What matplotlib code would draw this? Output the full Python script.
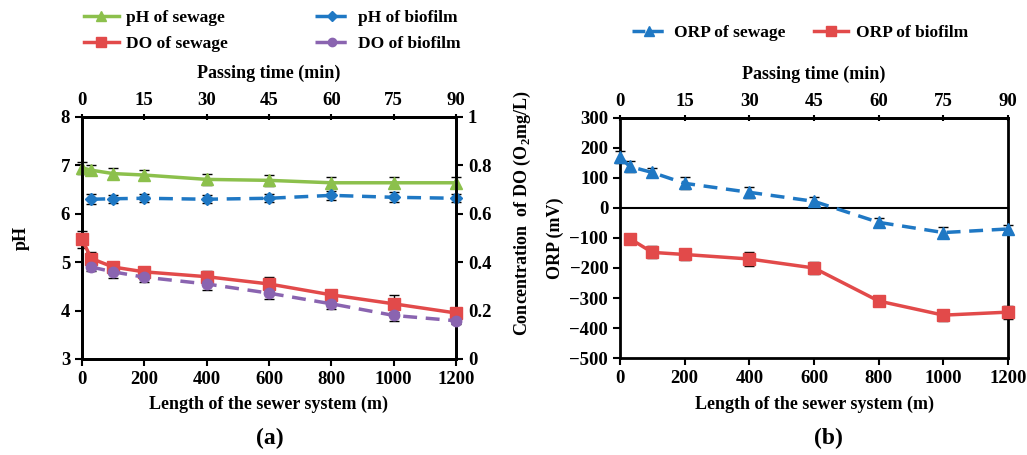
import matplotlib
matplotlib.use("Agg")
import matplotlib.pyplot as plt
from matplotlib.lines import Line2D

plt.rcParams["font.family"] = ["Liberation Serif", "DejaVu Serif"]
plt.rcParams["font.weight"] = "bold"
plt.rcParams["mathtext.fontset"] = "custom"
plt.rcParams["mathtext.rm"] = "Liberation Serif:bold"
plt.rcParams["mathtext.bf"] = "Liberation Serif:bold"
plt.rcParams["axes.linewidth"] = 2.0

# sampling positions along the sewer (m)
length_all = [0, 30, 100, 200, 400, 600, 800, 1000, 1200]
length_bio = [30, 100, 200, 400, 600, 800, 1000, 1200]

ph_sewage = [6.95, 6.9, 6.83, 6.8, 6.71, 6.69, 6.64, 6.64, 6.64]
ph_sewage_err = [0.12, 0.1, 0.11, 0.11, 0.11, 0.11, 0.11, 0.11, 0.11]
ph_biofilm = [6.3, 6.31, 6.32, 6.3, 6.32, 6.38, 6.34, 6.32]
ph_biofilm_err = [0.1, 0.08, 0.08, 0.08, 0.08, 0.09, 0.1, 0.08]

do_sewage = [0.495, 0.415, 0.38, 0.36, 0.34, 0.31, 0.265, 0.228, 0.19]
do_sewage_err = [0.035, 0.025, 0.02, 0.015, 0.025, 0.03, 0.02, 0.035, 0.02]
do_biofilm = [0.38, 0.36, 0.338, 0.31, 0.272, 0.228, 0.18, 0.158]
do_biofilm_err = [0.015, 0.025, 0.02, 0.025, 0.025, 0.02, 0.025, 0.012]

orp_sewage = [170, 138, 118, 82, 52, 22, -48, -82, -70]
orp_sewage_err = [20, 17, 16, 20, 18, 16, 15, 18, 12]
orp_biofilm = [-102, -148, -155, -170, -200, -310, -357, -347]
orp_biofilm_err = [10, 20, 18, 22, 20, 18, 18, 22]

green = "#8CC04C"
blue = "#1F78C4"
red = "#E24A4A"
purple = "#8A64B0"

TICK = 13.5
LAB = 13

fig = plt.figure(figsize=(10.27, 4.55), dpi=100)
ax_a = fig.add_axes([0.0798, 0.211, 0.3642, 0.532])
ax_b = fig.add_axes([0.6037, 0.213, 0.3778, 0.528])


def to_min(x):
    return x * 90.0 / 1200.0


def to_len(t):
    return t * 1200.0 / 90.0


def eb(ax, x, y, err, color, marker, ls, ms):
    ax.errorbar(x, y, yerr=err, color=color, marker=marker, ms=ms, lw=2.5,
                ls=ls, dashes=(4, 2.5) if ls == "--" else (None, None),
                ecolor="black", elinewidth=1.0, capsize=3.5, capthick=1.0,
                clip_on=False, zorder=3)


def style_axis(ax):
    ax.set_xlim(0, 1200)
    ax.set_xticks([0, 200, 400, 600, 800, 1000, 1200])
    ax.tick_params(axis="both", labelsize=TICK, width=1.5, length=5,
                   direction="out")
    for lab in ax.get_xticklabels() + ax.get_yticklabels():
        lab.set_fontweight("bold")
    ax.set_xlabel("Length of the sewer system (m)", fontsize=LAB,
                  fontweight="bold", labelpad=6)
    top = ax.secondary_xaxis("top", functions=(to_min, to_len))
    top.set_xticks([0, 15, 30, 45, 60, 75, 90])
    top.tick_params(labelsize=TICK, width=1.5, length=5, direction="inout")
    for lab in top.get_xticklabels():
        lab.set_fontweight("bold")
    top.set_xlabel("Passing time (min)", fontsize=LAB, fontweight="bold",
                   labelpad=10)


# panel (a): pH on the left axis, DO on the right axis
eb(ax_a, length_all, ph_sewage, ph_sewage_err, green, "^", "-", 8)
eb(ax_a, length_bio, ph_biofilm, ph_biofilm_err, blue, "D", "--", 6)
ax_a.set_ylim(3, 8)
ax_a.set_yticks([3, 4, 5, 6, 7, 8])
ax_a.set_ylabel("pH", fontsize=LAB, fontweight="bold", labelpad=22)
style_axis(ax_a)

ax_do = ax_a.twinx()
eb(ax_do, length_all, do_sewage, do_sewage_err, red, "s", "-", 8.5)
eb(ax_do, length_bio, do_biofilm, do_biofilm_err, purple, "o", "--", 7.5)
ax_do.set_ylim(0, 1)
ax_do.set_yticks([0, 0.2, 0.4, 0.6, 0.8, 1.0])
ax_do.set_yticklabels(["0", "0.2", "0.4", "0.6", "0.8", "1"])
ax_do.tick_params(axis="y", labelsize=TICK, width=1.5, length=5)
for lab in ax_do.get_yticklabels():
    lab.set_fontweight("bold")

fig.text(522 / 1027, 1 - 213 / 455,
         r"Concentration  of DO (O$_{2}$mg/L)", rotation=90,
         ha="center", va="center", fontsize=LAB, fontweight="bold")

handles_a = [
    Line2D([], [], color=green, marker="^", lw=2.5, ms=7),
    Line2D([], [], color=red, marker="s", lw=2.5, ms=7),
    Line2D([], [], color=blue, marker="D", lw=2.5, ls="--", ms=5),
    Line2D([], [], color=purple, marker="o", lw=2.5, ls="--", ms=6),
]
labels_a = ["pH of sewage", "DO of sewage", "pH of biofilm", "DO of biofilm"]
fig.legend(handles_a, labels_a, ncol=2, loc="center",
           bbox_to_anchor=(272 / 1027, 1 - 31 / 455), frameon=False,
           prop={"size": 12.5, "weight": "bold"}, handlelength=2.0,
           columnspacing=5.0, labelspacing=0.6, handletextpad=0.45)

# panel (b): ORP of sewage and biofilm
ax_b.axhline(0, color="black", lw=1.5, zorder=1)
eb(ax_b, length_all, orp_sewage, orp_sewage_err, blue, "^", "--", 8)
eb(ax_b, length_bio, orp_biofilm, orp_biofilm_err, red, "s", "-", 8.5)
ax_b.set_ylim(-500, 300)
ax_b.set_yticks(range(-500, 301, 100))
ax_b.set_ylabel("ORP (mV)", fontsize=LAB, fontweight="bold", labelpad=4)
style_axis(ax_b)

handles_b = [
    Line2D([], [], color=blue, marker="^", lw=2.5, ls="--", ms=7),
    Line2D([], [], color=red, marker="s", lw=2.5, ms=7),
]
fig.legend(handles_b, ["ORP of sewage", "ORP of biofilm"], ncol=2,
           loc="center", bbox_to_anchor=(800 / 1027, 1 - 33 / 455),
           frameon=False, prop={"size": 12.5, "weight": "bold"},
           handlelength=2.0, columnspacing=1.6, handletextpad=0.45)

fig.text(270 / 1027, 1 - 438 / 455, "(a)", ha="center", va="center",
         fontsize=17, fontweight="bold")
fig.text(828 / 1027, 1 - 438 / 455, "(b)", ha="center", va="center",
         fontsize=17, fontweight="bold")

fig.savefig("out.png", dpi=100)
